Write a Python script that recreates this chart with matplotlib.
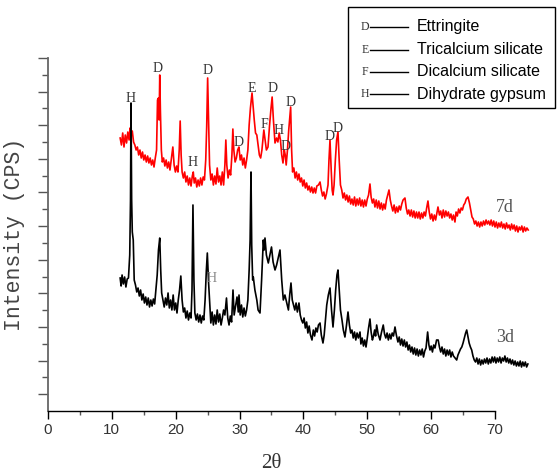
import matplotlib
matplotlib.use("Agg")
import matplotlib.pyplot as plt
from matplotlib.lines import Line2D
from matplotlib.patches import Rectangle
import numpy as np

# ---------------- data ----------------
two_theta_7d = [
    11.3, 11.5, 11.7, 11.9, 12.1, 12.3, 12.5, 12.7, 12.85, 13.0, 13.2, 13.4, 13.6, 13.8,
    14.0, 14.2, 14.4, 14.6, 14.8, 15.0, 15.2, 15.4, 15.6, 15.8, 16.0, 16.2, 16.4, 16.6,
    16.8, 17.0, 17.15, 17.3, 17.4, 17.5, 17.6, 17.75, 17.9, 18.1, 18.3, 18.5, 18.7, 18.9,
    19.1, 19.3, 19.55, 19.75, 19.95, 20.15, 20.35, 20.55, 20.7, 20.85, 21.0, 21.2, 21.4,
    21.6, 21.8, 22.0, 22.2, 22.4, 22.6, 22.75, 22.9, 23.1, 23.3, 23.5, 23.7, 23.9, 24.1,
    24.3, 24.5, 24.7, 24.85, 25.0, 25.15, 25.3, 25.5, 25.7, 25.9, 26.1, 26.3, 26.5, 26.7,
    26.9, 27.1, 27.3, 27.5, 27.7, 27.85, 28.0, 28.2, 28.4, 28.6, 28.8, 28.95, 29.1, 29.3,
    29.5, 29.7, 29.9, 30.1, 30.3, 30.5, 30.7, 30.9, 31.1, 31.3, 31.5, 31.7, 31.95, 32.1,
    32.3, 32.5, 32.7, 32.9, 33.1, 33.3, 33.5, 33.8, 34.0, 34.2, 34.45, 34.7, 34.9, 35.1,
    35.3, 35.55, 35.8, 36.0, 36.2, 36.4, 36.6, 36.8, 37.0, 37.15, 37.3, 37.5, 37.7, 38.0,
    38.15, 38.3, 38.5, 38.7, 38.9, 39.1, 39.3, 39.5, 39.7, 39.9, 40.1, 40.3, 40.5, 40.7,
    40.9, 41.1, 41.3, 41.5, 41.7, 41.9, 42.1, 42.35, 42.6, 42.8, 43.0, 43.2, 43.4, 43.6,
    43.85, 44.0, 44.16, 44.35, 44.5, 44.63, 44.8, 45.0, 45.2, 45.41, 45.6, 45.8, 46.0,
    46.2, 46.4, 46.6, 46.8, 47.0, 47.2, 47.4, 47.6, 47.8, 48.0, 48.2, 48.4, 48.6, 48.8,
    49.0, 49.2, 49.4, 49.6, 49.8, 50.0, 50.2, 50.42, 50.6, 50.8, 51.0, 51.2, 51.4, 51.6,
    51.8, 52.0, 52.2, 52.4, 52.6, 52.8, 53.0, 53.2, 53.4, 53.6, 53.8, 54.0, 54.2, 54.4,
    54.6, 54.8, 55.0, 55.2, 55.4, 55.6, 55.9, 56.1, 56.3, 56.5, 56.7, 56.9, 57.1, 57.3,
    57.5, 57.7, 57.9, 58.1, 58.3, 58.5, 58.7, 58.9, 59.1, 59.3, 59.5, 59.7, 59.9, 60.1,
    60.3, 60.5, 60.7, 60.9, 61.07, 61.3, 61.5, 61.7, 61.9, 62.1, 62.3, 62.5, 62.7, 62.9,
    63.1, 63.3, 63.5, 63.73, 63.9, 64.1, 64.3, 64.5, 64.7, 64.9, 65.1, 65.3, 65.5, 65.77,
    66.0, 66.2, 66.4, 66.6, 66.8, 67.0, 67.2, 67.4, 67.6, 67.8, 68.0, 68.2, 68.4, 68.6,
    68.8, 69.0, 69.2, 69.4, 69.6, 69.8, 70.0, 70.2, 70.4, 70.6, 70.8, 71.0, 71.2, 71.4,
    71.6, 71.8, 72.0, 72.2, 72.4, 72.6, 72.8, 73.0, 73.2, 73.4, 73.6, 73.8, 74.0, 74.2,
    74.4, 74.6, 74.8, 75.0, 75.2,
]
intensity_7d = [
    273, 266, 278, 264, 276, 268, 279, 271, 283, 275, 280, 269, 266, 261,
    264, 256, 261, 253, 259, 251, 256, 249, 255, 248, 253, 246, 251, 244,
    253, 261, 311, 313, 291, 336, 301, 261, 249, 253, 245, 251, 243, 249,
    241, 251, 264, 246, 239, 245, 239, 261, 290, 256, 239, 233, 239,
    229, 235, 226, 233, 225, 235, 239, 228, 233, 224, 231, 225, 233, 226,
    234, 231, 251, 284, 333, 291, 246, 231, 237, 226, 235, 227, 243, 229,
    235, 226, 239, 226, 246, 271, 246, 233, 241, 236, 256, 282, 261, 249,
    253, 261, 264, 251, 256, 246, 253, 243, 251, 261, 286, 303, 318, 306,
    291, 278, 276, 266, 256, 253, 261, 281, 271, 261, 264, 286, 301, 314,
    291, 268, 273, 269, 278, 271, 256, 248, 261, 256, 246, 261, 281, 304,
    261, 239, 243, 233, 239, 231, 237, 229, 233, 225, 231, 223, 228, 221,
    225, 219, 224, 218, 223, 218, 225, 226, 229, 221, 215, 219, 212, 217,
    226, 251, 271, 241, 221, 216, 226, 251, 271, 279, 251, 226, 221,
    213, 218, 211, 216, 209, 215, 207, 212, 206, 214, 205, 212, 206, 213,
    205, 211, 204, 211, 205, 212, 216, 227, 214, 208, 212, 204, 211, 203,
    210, 202, 208, 201, 207, 202, 211, 216, 221, 211, 205, 200, 206, 198,
    204, 199, 205, 201, 207, 211, 213, 203, 197, 201, 195, 201, 194, 200,
    193, 199, 193, 199, 192, 198, 193, 199, 195, 203, 210, 199, 192, 197,
    190, 196, 191, 198, 204, 196, 200, 193, 201, 194, 200, 195, 199, 193,
    197, 191, 196, 189, 199, 195, 202, 198, 203, 201, 206, 208, 212, 214,
    208, 201, 194, 192, 187, 190, 185, 189, 184, 189, 185, 190, 186, 191,
    187, 190, 186, 191, 185, 190, 184, 189, 183, 188, 184, 189, 183, 187,
    182, 188, 183, 186, 181, 187, 182, 186, 180, 185, 179, 184, 181, 185,
    179, 184, 180, 183, 181,
]

two_theta_3d = [
    11.3, 11.45, 11.6, 11.8, 12.0, 12.2, 12.4, 12.6, 12.8, 12.92, 13.0, 13.1, 13.2, 13.35,
    13.5, 13.7, 13.9, 14.1, 14.3, 14.5, 14.7, 14.9, 15.1, 15.3, 15.5, 15.7, 15.9, 16.1,
    16.3, 16.5, 16.7, 16.9, 17.1, 17.3, 17.5, 17.65, 17.8, 18.0, 18.2, 18.4, 18.6, 18.8,
    19.0, 19.2, 19.4, 19.6, 19.8, 20.0, 20.2, 20.4, 20.6, 20.8, 21.0, 21.2, 21.4, 21.6,
    21.8, 22.0, 22.2, 22.4, 22.55, 22.7, 22.85, 23.0, 23.2, 23.4, 23.6, 23.8, 24.0, 24.2,
    24.4, 24.6, 24.8, 24.95, 25.15, 25.3, 25.5, 25.7, 25.9, 26.1, 26.3, 26.5, 26.7, 26.9,
    27.1, 27.3, 27.5, 27.7, 27.95, 28.15, 28.35, 28.55, 28.75, 28.97, 29.15, 29.4, 29.6,
    29.8, 29.91, 30.1, 30.3, 30.5, 30.7, 30.9, 31.1, 31.3, 31.5, 31.65, 31.79, 31.9, 32.05,
    32.15, 32.4, 32.7, 32.9, 33.2, 33.45, 33.72, 33.85, 33.98, 34.2, 34.5, 34.75, 35.0,
    35.25, 35.55, 35.8, 36.05, 36.33, 36.6, 36.85, 37.1, 37.4, 37.65, 37.85, 38.05, 38.25,
    38.45, 38.65, 38.85, 39.05, 39.3, 39.5, 39.7, 39.9, 40.1, 40.3, 40.5, 40.7, 40.9,
    41.1, 41.34, 41.55, 41.75, 41.95, 42.15, 42.35, 42.6, 42.8, 43.06, 43.25, 43.45,
    43.65, 43.9, 44.16, 44.4, 44.63, 44.85, 45.05, 45.25, 45.41, 45.6, 45.8, 46.04,
    46.25, 46.5, 46.75, 46.98, 47.2, 47.4, 47.6, 47.8, 48.0, 48.2, 48.4, 48.6, 48.86,
    49.0, 49.2, 49.4, 49.6, 49.8, 50.0, 50.2, 50.42, 50.6, 50.8, 50.94, 51.15, 51.3,
    51.47, 51.7, 51.99, 52.2, 52.5, 52.7, 52.9, 53.1, 53.3, 53.5, 53.7, 53.9, 54.1,
    54.34, 54.55, 54.8, 55.0, 55.2, 55.4, 55.6, 55.8, 56.0, 56.2, 56.4, 56.6, 56.8,
    57.0, 57.2, 57.4, 57.6, 57.8, 58.0, 58.2, 58.4, 58.6, 58.8, 59.0, 59.2, 59.45,
    59.65, 59.82, 60.0, 60.2, 60.4, 60.6, 60.85, 61.1, 61.3, 61.5, 61.7, 61.9, 62.1,
    62.3, 62.5, 62.7, 62.9, 63.1, 63.3, 63.5, 63.75, 64.0, 64.2, 64.4, 64.6, 64.8,
    65.0, 65.2, 65.4, 65.57, 65.75, 65.95, 66.15, 66.35, 66.55, 66.75, 66.95, 67.15,
    67.35, 67.55, 67.75, 67.95, 68.15, 68.35, 68.55, 68.75, 68.95, 69.15, 69.35, 69.55,
    69.75, 69.95, 70.15, 70.35, 70.55, 70.75, 70.95, 71.15, 71.35, 71.55, 71.75, 71.95,
    72.15, 72.35, 72.55, 72.75, 72.95, 73.15, 73.35, 73.55, 73.75, 73.95, 74.15, 74.35,
    74.55, 74.75, 74.95, 75.15,
]
intensity_3d = [
    133, 125, 136, 127, 134, 124, 132, 133, 156, 211, 308, 211, 179, 171,
    131, 126, 119, 123, 115, 121, 111, 117, 108, 114, 106, 113, 104, 111,
    105, 112, 107, 121, 136, 161, 173, 141, 118, 111, 104, 113, 106, 118,
    103, 111, 101, 116, 101, 108, 98, 111, 121, 135, 111, 99, 103, 93,
    100, 91, 98, 93, 121, 206, 131, 98, 91, 97, 89, 96, 88, 95,
    91, 111, 141, 158, 128, 111, 88, 99, 86, 96, 87, 101, 89, 97,
    86, 93, 101, 96, 113, 93, 86, 95, 89, 121, 96, 106, 114,
    99, 116, 96, 106, 94, 103, 95, 101, 111, 141, 171, 239, 166, 131,
    134, 121, 111, 101, 98, 131, 171, 161, 173, 156, 148, 156, 164,
    149, 141, 146, 153, 161, 131, 111, 116, 108, 101, 116, 128, 111,
    106, 101, 108, 99, 108, 96, 91, 88, 93, 83, 89, 78, 85,
    76, 71, 81, 75, 83, 79, 86, 88, 76, 68, 76, 91,
    106, 116, 123, 101, 84, 101, 121, 136, 141, 121, 101, 91,
    81, 74, 86, 99, 86, 78, 81, 73, 79, 71, 78, 73, 79,
    67, 73, 65, 71, 64, 73, 83, 92, 79, 71, 74, 81, 75,
    86, 77, 71, 78, 86, 77, 73, 78, 71, 77, 72, 78, 75,
    84, 76, 69, 74, 66, 72, 65, 71, 64, 69, 61, 66, 59,
    64, 57, 63, 56, 62, 55, 61, 56, 62, 54, 60, 63, 79,
    66, 61, 65, 59, 66, 63, 71, 71, 64, 59, 64, 57, 62,
    55, 61, 56, 61, 54, 59, 55, 53, 51, 56, 59, 62, 64,
    68, 73, 78, 81, 75, 68, 64, 61, 55, 51, 49, 53,
    47, 52, 46, 51, 47, 52, 48, 53, 47, 52, 48, 54,
    49, 54, 48, 53, 49, 54, 48, 53, 50, 55, 49, 53,
    48, 52, 47, 51, 46, 50, 45, 49, 45, 50, 44, 49,
    45, 49, 44, 47,
]

# phase marks: letter, 2theta, height
peak_letters = ["H", "D", "D", "H", "D", "E", "D", "F", "H", "D", "D", "D", "D", "H"]
peak_theta = [13.0, 17.23, 25.05, 22.71, 29.91, 31.95, 35.23, 33.82, 36.17, 38.05, 37.27,
              44.16, 45.41, 25.68]
peak_height = [313, 343, 341, 248, 269, 323, 322, 286, 280, 309, 265, 274, 283, 133]

legend_letters = ["D", "E", "F", "H"]
legend_phases = ["Ettringite", "Tricalcium silicate", "Dicalcium silicate", "Dihydrate gypsum"]

x_ticks = [0, 10, 20, 30, 40, 50, 60, 70]

# ---------------- figure ----------------
W, H = 559, 475
fig = plt.figure(figsize=(W / 100, H / 100), dpi=100)
ax = fig.add_axes([48 / W, 64 / H, 447 / W, 353 / H])

ax.plot(two_theta_7d, intensity_7d, color="#ff0000", lw=1.2, clip_on=False, zorder=2)
ax.plot(two_theta_3d, intensity_3d, color="#000000", lw=1.2, clip_on=False, zorder=3)

ax.set_xlim(0, 70)
ax.set_ylim(0, 353)

for letter, tx, ty in zip(peak_letters, peak_theta, peak_height):
    c = "#888888" if ty < 200 else "#333333"
    ax.text(tx, ty, letter, ha="center", va="center", fontsize=10,
            family="Liberation Serif", color=c, zorder=4, clip_on=False)

ax.text(71.6, 204, "7d", ha="center", va="center", fontsize=13,
        family="Liberation Serif", color="#555555")
ax.text(71.6, 74, "3d", ha="center", va="center", fontsize=13,
        family="Liberation Serif", color="#555555")

# axes styling
for s in ("top", "right"):
    ax.spines[s].set_visible(False)
ax.spines["left"].set_color("#666666")
ax.spines["left"].set_linewidth(1.3)
ax.spines["bottom"].set_color("#000000")
ax.spines["bottom"].set_linewidth(1.0)

ax.set_xticks(x_ticks)
ax.set_xticks(np.arange(5, 70, 10), minor=True)
ax.tick_params(axis="x", which="major", direction="out", length=6, width=1.0,
               color="#000000", labelsize=11, labelcolor="#333333", pad=3)
ax.tick_params(axis="x", which="minor", direction="out", length=3, width=1.0, color="#555555")
for lab in ax.get_xticklabels():
    lab.set_family("Liberation Sans")

step = 353 / 21
ax.set_yticks([step * k for k in range(1, 22, 2)])
ax.set_yticks([step * k for k in range(2, 21, 2)], minor=True)
ax.tick_params(axis="y", which="major", direction="out", length=7, width=1.0,
               color="#555555", labelleft=False)
ax.tick_params(axis="y", which="minor", direction="out", length=4, width=1.0, color="#555555")

ax.set_xlabel("2θ", fontsize=15, family="Liberation Serif", color="#333333", labelpad=12)
ax.set_ylabel("Intensity (CPS)", fontsize=15.5, family="Liberation Mono", color="#444444",
              labelpad=9)

# legend box
fig.patches.append(Rectangle((348 / W, 1 - 108 / H), 207 / W, 101 / H, transform=fig.transFigure,
                             fill=False, edgecolor="#000000", lw=1.0))
row_y = [27, 50, 72, 94]
for ry, letter, phase in zip(row_y, legend_letters, legend_phases):
    yf = 1 - ry / H
    fig.text(365 / W, yf, letter, ha="center", va="center", fontsize=8.5,
             family="Liberation Serif", color="#333333")
    fig.add_artist(Line2D([370 / W, 408 / W], [yf, yf], transform=fig.transFigure,
                          color="#000000", lw=1.0))
    fig.text(417 / W, yf, phase, ha="left", va="center", fontsize=11.5,
             family="Liberation Sans", color="#000000")

fig.savefig("out.png", dpi=100, facecolor="white")
